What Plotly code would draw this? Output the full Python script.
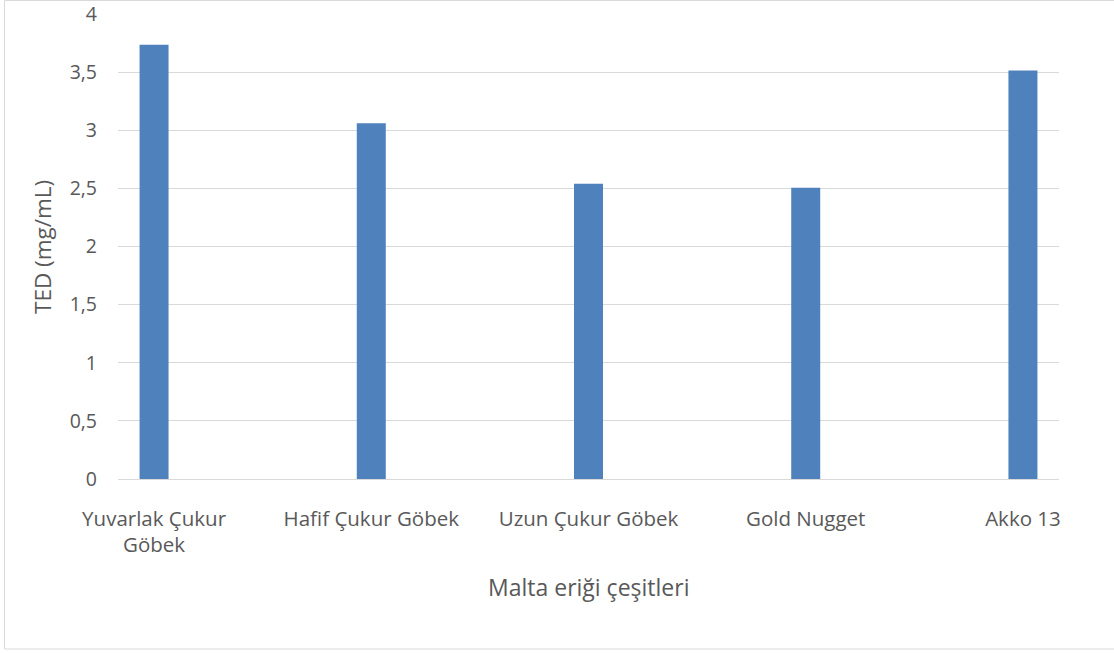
import plotly.graph_objects as go

# Malta eriği çeşitlerine göre TED değerleri
categories = ["Yuvarlak Çukur<br>Göbek", "Hafif Çukur Göbek", "Uzun Çukur Göbek", "Gold Nugget", "Akko 13"]
ted_values = [3.735, 3.06, 2.54, 2.505, 3.515]
y_tick_values = [0, 0.5, 1, 1.5, 2, 2.5, 3, 3.5, 4]
y_tick_labels = ["0", "0,5", "1", "1,5", "2", "2,5", "3", "3,5", "4"]

W, H = 1114, 653
L, R, T, B = 118, 55, 14, 174
pw, ph = W - L - R, H - T - B

def px_x(px):
    return (px - L) / pw

def px_y(py):
    return (H - B - py) / ph

FONT = "Open Sans"
GREY = "#595959"

fig = go.Figure(
    go.Bar(
        x=categories,
        y=ted_values,
        marker=dict(color="#4f81bd", line=dict(width=0)),
        width=0.1335,
    )
)

fig.update_layout(
    width=W,
    height=H,
    autosize=False,
    margin=dict(l=L, r=R, t=T, b=B, pad=0, autoexpand=False),
    paper_bgcolor="white",
    plot_bgcolor="white",
    showlegend=False,
    font=dict(family=FONT, size=20, color=GREY),
    xaxis=dict(
        type="category",
        range=[-0.166, 4.166],
        automargin=False,
        showgrid=False,
        showline=False,
        zeroline=False,
        ticks="",
        tickfont=dict(family=FONT, size=20.5, color=GREY),
        ticklabelstandoff=25,
        ticklabeloverflow="allow",
    ),
    yaxis=dict(
        range=[0, 4],
        automargin=False,
        tickvals=y_tick_values,
        ticktext=y_tick_labels,
        showgrid=True,
        gridcolor="#d9d9d9",
        gridwidth=1,
        zeroline=True,
        zerolinecolor="#d9d9d9",
        zerolinewidth=1,
        showline=False,
        ticks="",
        tickfont=dict(family=FONT, size=19.5, color=GREY),
        ticklabelstandoff=20,
        ticklabeloverflow="allow",
    ),
    annotations=[
        dict(
            text="Malta eriği çeşitleri",
            xref="paper", yref="paper",
            x=px_x(588), y=px_y(587),
            xanchor="center", yanchor="middle",
            showarrow=False,
            font=dict(family=FONT, size=23, color=GREY),
        ),
        dict(
            text="TED (mg/mL)",
            xref="paper", yref="paper",
            x=px_x(42), y=px_y(247),
            xanchor="center", yanchor="middle",
            textangle=-90,
            showarrow=False,
            font=dict(family=FONT, size=22.5, color=GREY),
        ),
    ],
    shapes=[
        dict(
            type="rect",
            xref="paper", yref="paper",
            x0=px_x(4.5), x1=px_x(1116),
            y0=px_y(649), y1=px_y(0.5),
            line=dict(color="#d9d9d9", width=1),
            fillcolor="rgba(0,0,0,0)",
            layer="below",
        )
    ],
)

fig.write_html("out.html")
